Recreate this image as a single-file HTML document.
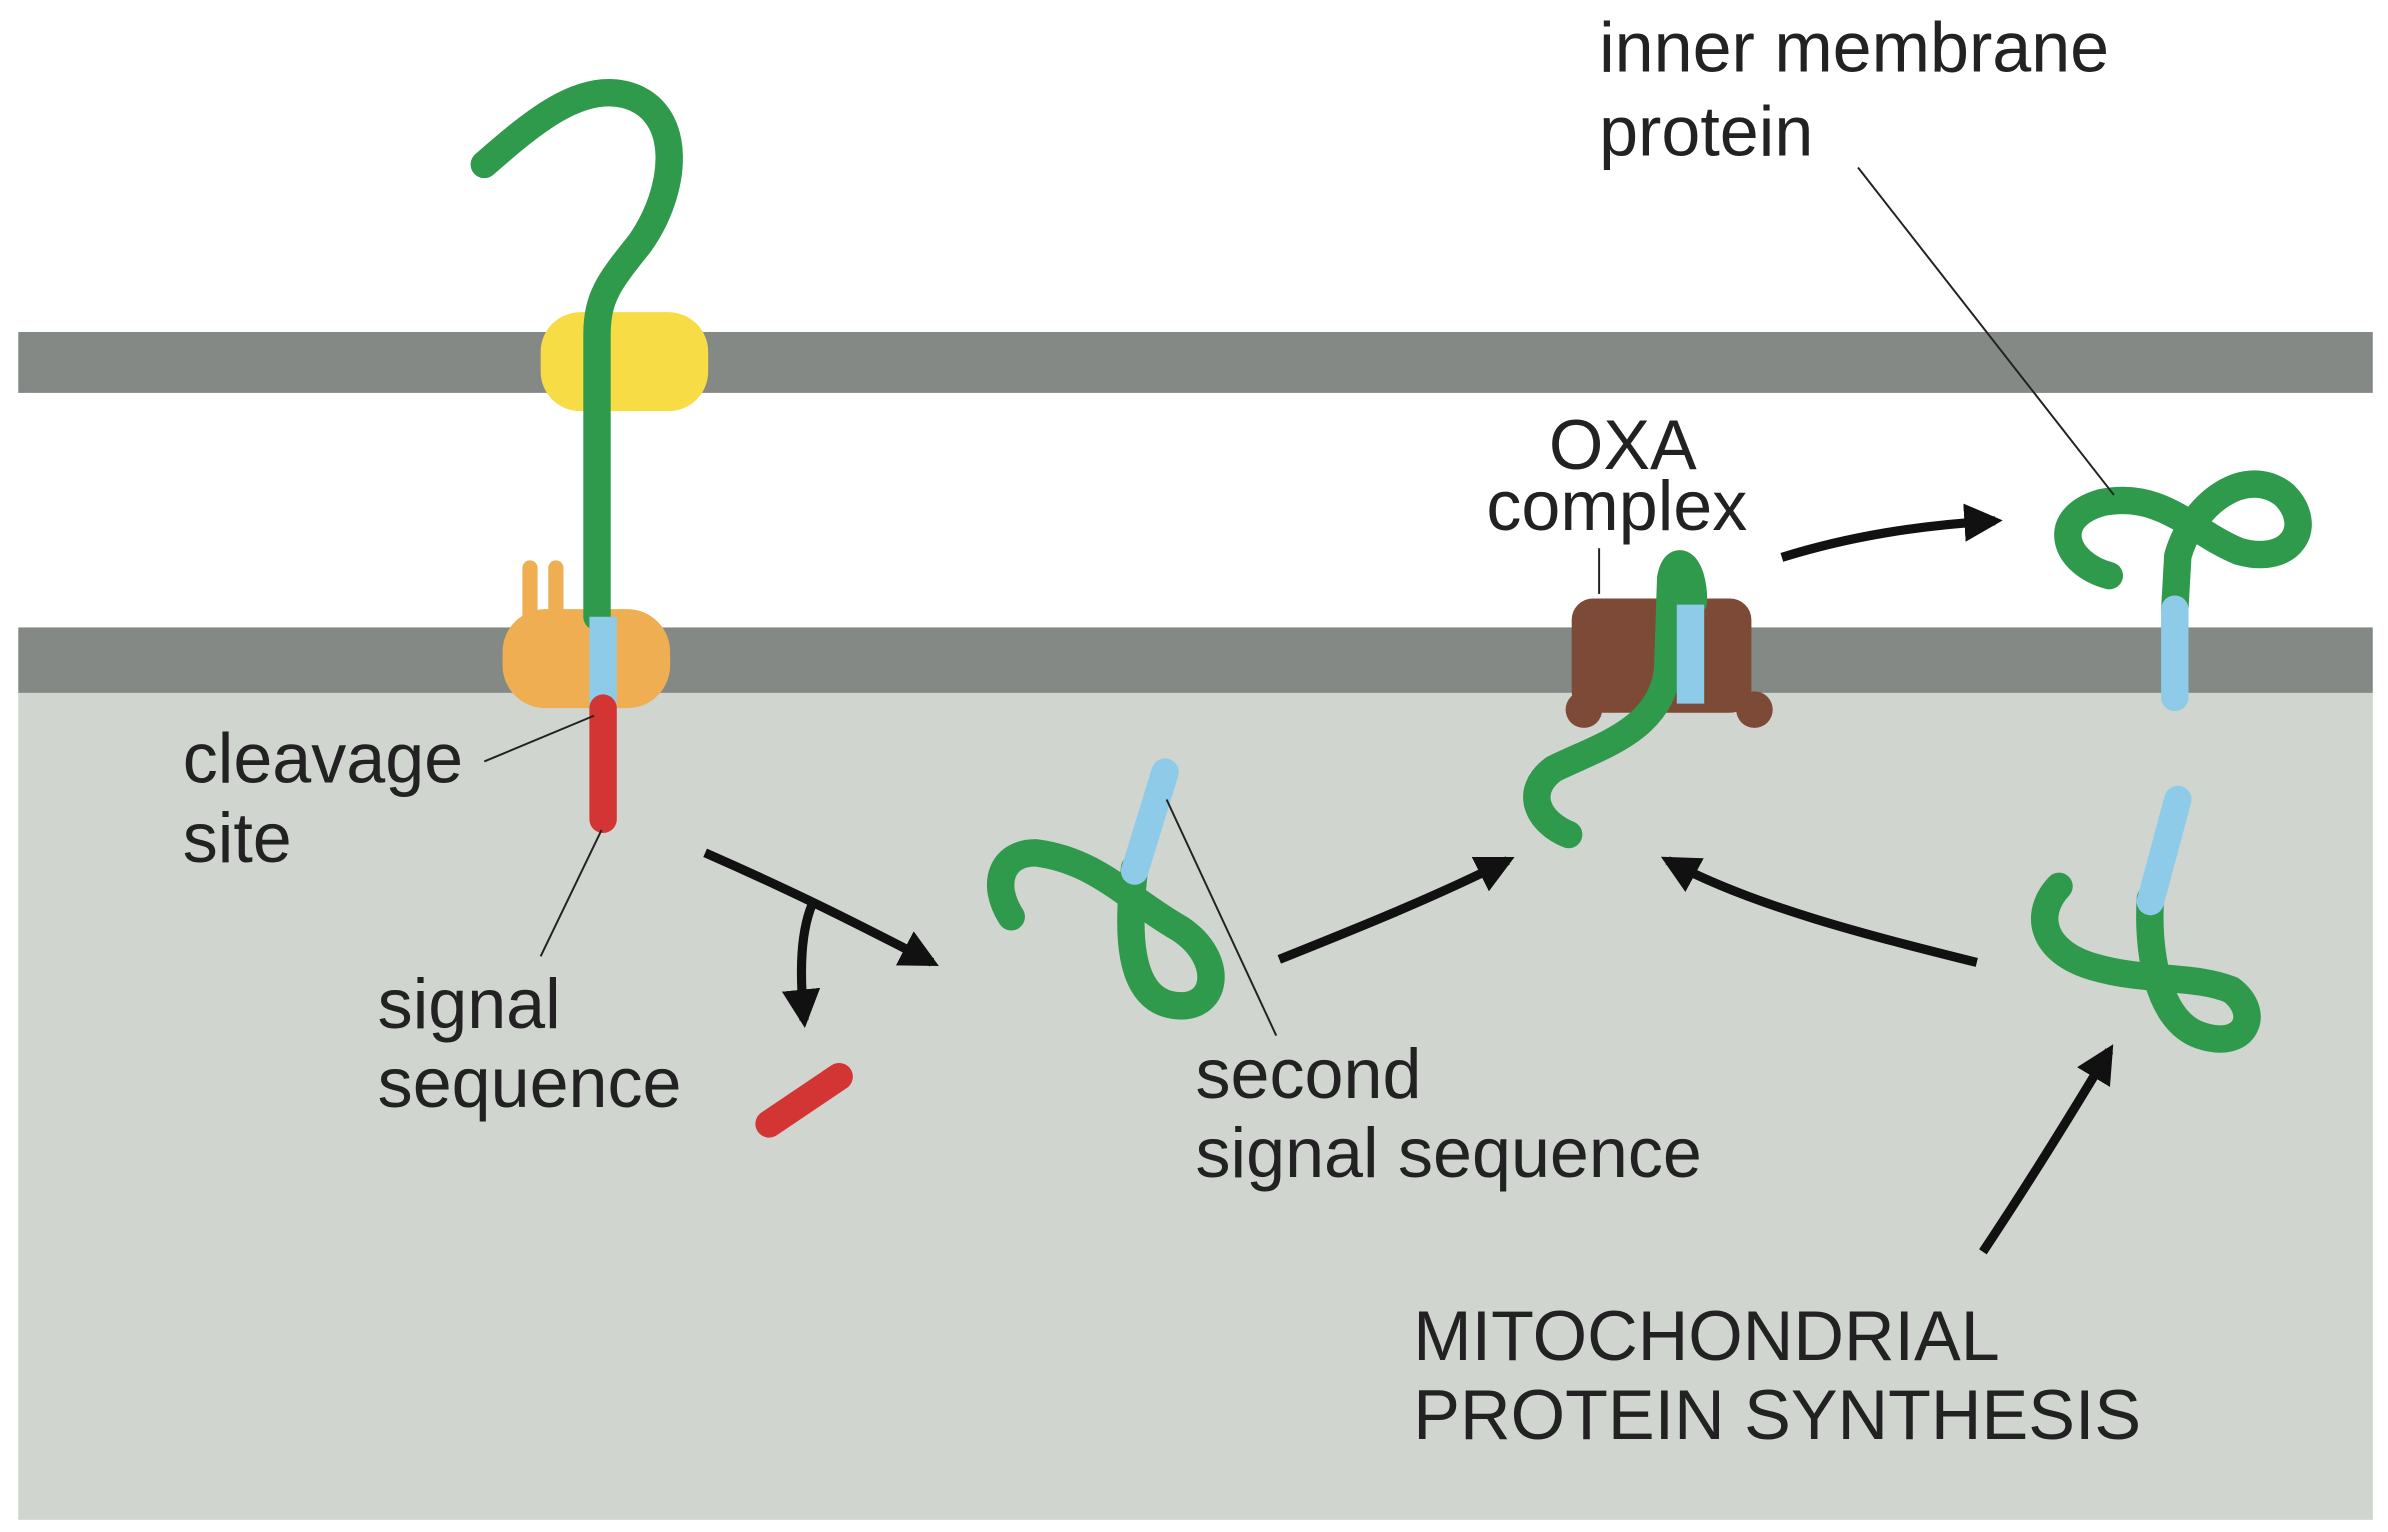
<!DOCTYPE html>
<html><head><meta charset="utf-8"><style>
html,body{margin:0;padding:0;background:#fff;}
svg{display:block;}
text{font-family:"Liberation Sans",sans-serif;fill:#222;}
</style></head><body>
<svg width="2388" height="1532" viewBox="0 0 1568 1006" preserveAspectRatio="none">
<defs>
<marker id="ah" viewBox="0 0 10 10" refX="8" refY="5" markerWidth="4.2" markerHeight="4.2" orient="auto"><path d="M0,0 L10,5 L0,10 z" fill="#111"/></marker>
</defs>
<rect x="12" y="455" width="1546" height="543" fill="#d0d5cf"/>
<rect x="12" y="218" width="1546" height="40" fill="#858985"/>
<rect x="12" y="412" width="1546" height="43" fill="#858985"/>

<rect x="355" y="205" width="110" height="65" rx="26" fill="#f7dc45"/>
<g fill="#efae52">
<rect x="343" y="368" width="10" height="40" rx="5"/><rect x="360" y="368" width="10" height="40" rx="5"/>
<rect x="330" y="400" width="110" height="65" rx="28"/>
</g>
<g fill="none" stroke-linecap="round" stroke-width="18">
<path d="M318,108 C350,80 380,55 410,62 C450,72 445,125 420,160 C400,185 392,195 392,220 L392,405" stroke="#2f9a4b"/>
<path d="M396,405 L396,465" stroke="#8ecbe9" stroke-linecap="butt"/>
<path d="M396,465 L396,538" stroke="#d33434"/>
<path d="M505,738 L551,707" stroke="#d33434"/>
<path d="M664,602 C650,580 658,560 680,560 C720,565 740,590 775,610 C805,630 800,665 770,660 C740,655 740,610 745,570" stroke="#2f9a4b"/>
<path d="M745,572 L765,507" stroke="#8ecbe9"/>
<g stroke="none" fill="#7c4a36">
<rect x="1032" y="393" width="118" height="75" rx="14"/>
<circle cx="1040" cy="466" r="12"/><circle cx="1152" cy="466" r="12"/>
</g>
<path d="M1030,548 C1010,540 1000,520 1020,505 C1050,490 1090,480 1095,440 L1097,380" stroke="#2f9a4b"/>
<path d="M1097,380 C1100,362 1112,370 1112,395" stroke="#2f9a4b"/>
<path d="M1110,397 L1110,462" stroke="#8ecbe9" stroke-linecap="butt"/>
<path d="M1385,378 C1355,370 1345,340 1380,330 C1420,322 1440,350 1470,362 C1505,372 1520,345 1500,325 C1475,305 1440,330 1430,365 L1428,400" stroke="#2f9a4b"/>
<path d="M1428,400 L1428,458" stroke="#8ecbe9"/>
<path d="M1352,582 C1335,600 1340,625 1375,635 C1410,645 1440,640 1465,650 C1485,665 1475,690 1445,680 C1415,670 1410,620 1412,590" stroke="#2f9a4b"/>
<path d="M1412,592 L1430,525" stroke="#8ecbe9"/>
</g>

<g fill="none" stroke="#111" stroke-width="6">
<path d="M463,560 C520,585 560,605 612,632" marker-end="url(#ah)"/>
<path d="M535,590 C525,610 525,640 528,670" marker-end="url(#ah)"/>
<path d="M840,630 C890,610 940,590 990,565" marker-end="url(#ah)"/>
<path d="M1298,632 C1230,615 1150,595 1095,565" marker-end="url(#ah)"/>
<path d="M1170,366 C1215,352 1260,345 1310,342" marker-end="url(#ah)"/>
<path d="M1302,822 C1330,780 1355,740 1385,690" marker-end="url(#ah)"/>
</g>
<g stroke="#222" stroke-width="1.3" fill="none">
<path d="M318,500 L390,470"/>
<path d="M355,628 L395,545"/>
<path d="M766,525 L838,680"/>
<path d="M1050,390 L1050,360"/>
<path d="M1220,110 L1388,325"/>
</g>
<g font-size="46">
<text x="120" y="514">cleavage</text>
<text x="120" y="566">site</text>
<text x="248" y="675">signal</text>
<text x="248" y="727">sequence</text>
<text x="785" y="721">second</text>
<text x="785" y="773">signal sequence</text>
<text x="1017" y="308">OXA</text>
<text x="976" y="348">complex</text>
<text x="1050" y="47">inner membrane</text>
<text x="1050" y="102">protein</text>
<text x="928" y="893">MITOCHONDRIAL</text>
<text x="928" y="945">PROTEIN SYNTHESIS</text>
</g>
</svg>
</body></html>
